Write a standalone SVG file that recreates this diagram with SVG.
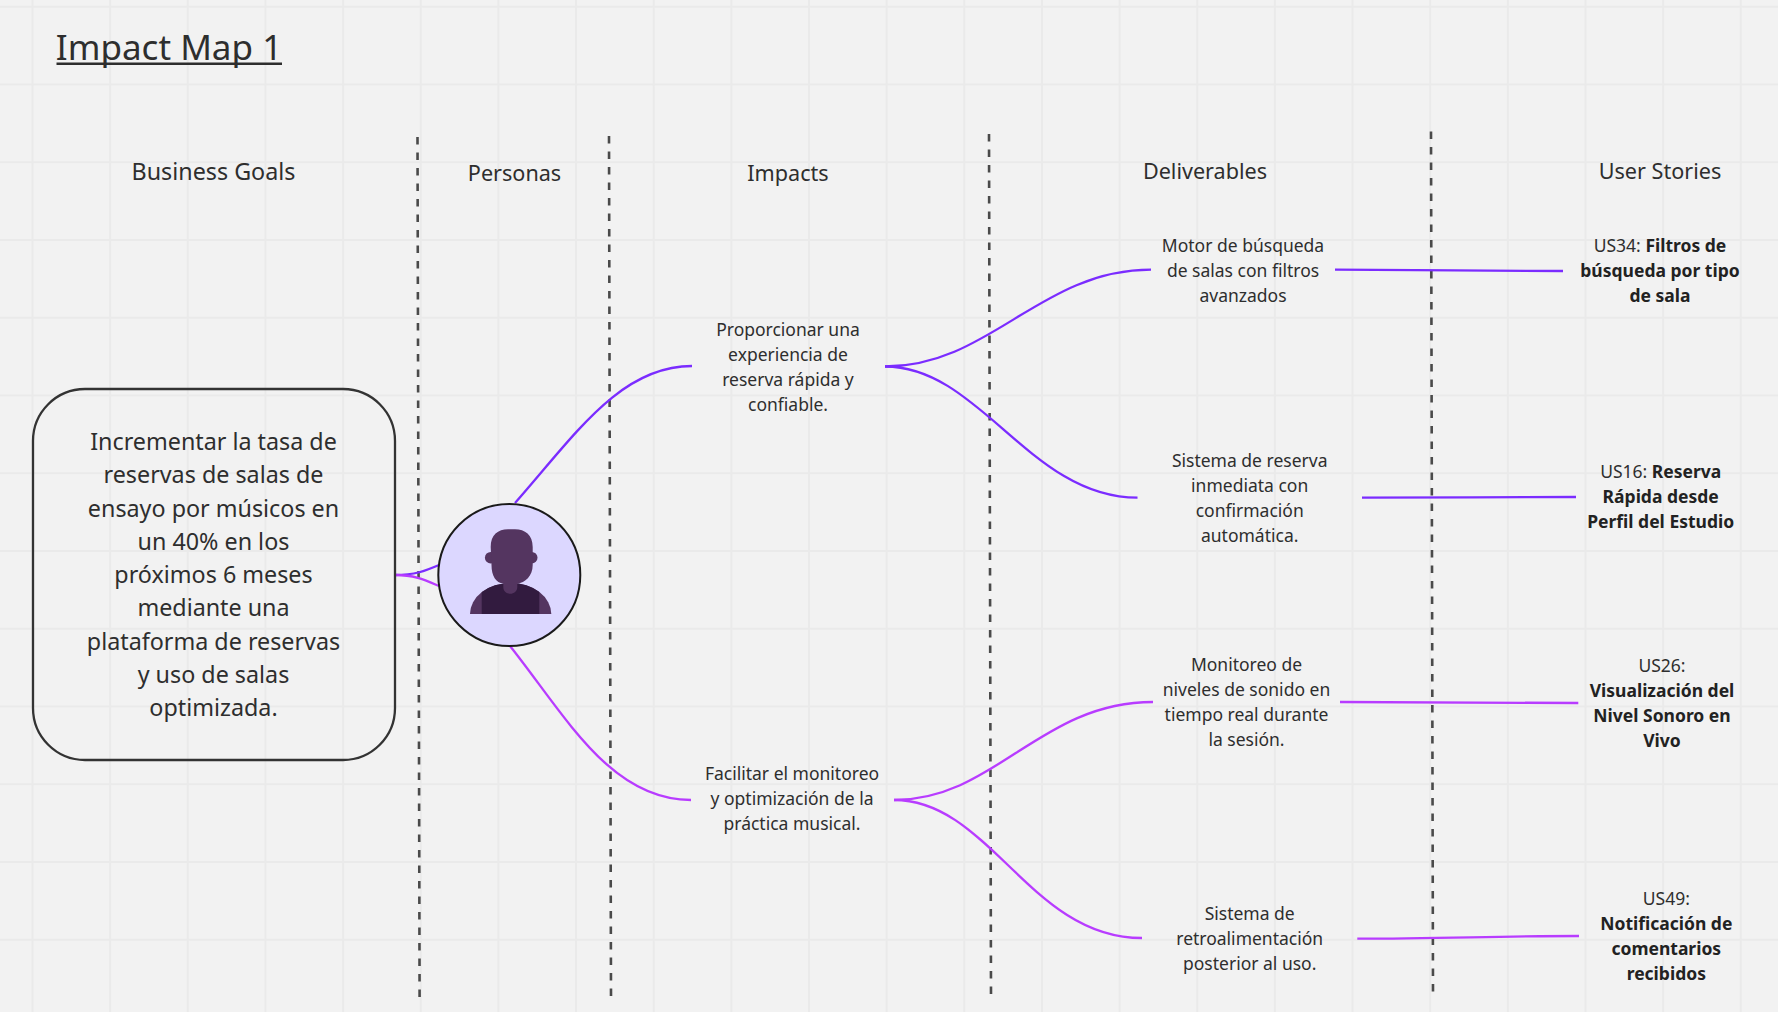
<svg xmlns="http://www.w3.org/2000/svg" width="1778" height="1012" viewBox="0 0 1778 1012">
<defs>
<pattern id="grid" width="77.65" height="77.75" patternUnits="userSpaceOnUse" x="31.500" y="5.700">
<rect width="2" height="77.75" fill="#eaeaea"/>
<rect width="77.65" height="2" fill="#eaeaea"/>
</pattern>
<clipPath id="torso"><path d="M470 614A40.650 31 0 0 1 551.300 614Z"/></clipPath>
</defs>
<style>
text{font-family:"Noto Sans","Open Sans","DejaVu Sans",sans-serif;fill:#2e2e2e;text-anchor:middle}
.h{font-size:21.6px}
.h0{font-size:23.300px}
.b{font-size:17.500px}
.g{font-size:23.300px}
.s{font-weight:700;fill:#222}
.dash{stroke:#4a4a4a;stroke-width:2.600;stroke-dasharray:7.500 8;fill:none}
.c1{stroke:#7b2cff;stroke-width:2.300;fill:none}
.c2{stroke:#b83cff;stroke-width:2.300;fill:none}
</style>
<rect width="1778" height="1012" fill="#f2f2f2"/>
<rect width="1778" height="1012" fill="url(#grid)"/>
<g id="dividers">
<path class="dash" d="M417.5 137L419.6 1000"/>
<path class="dash" d="M609 136L611 998"/>
<path class="dash" d="M989 134L991 997"/>
<path class="dash" d="M1431 131.500L1433 994.500"/>
</g>
<g id="connectors">
<path class="c1" d="M395 575C415 575 425 571 439 565"/>
<path class="c2" d="M395 575C415 575 425 580 439 586"/>
<path class="c1" d="M515 503C575 435 620 366 692 366"/>
<path class="c2" d="M510 646C565 715 610 800 691 800"/>
<path class="c1" d="M885 366.500C990 366.500 1040 269.700 1151 269.700"/>
<path class="c1" d="M885 366.500C980 366.500 1030 497.700 1137.500 497.700"/>
<path class="c2" d="M894 800C995 800 1040 702 1153 702"/>
<path class="c2" d="M894 800C990 800 1030 938 1142 938"/>
<path class="c1" d="M1335 269.700C1420 269.700 1480 271 1563 271"/>
<path class="c1" d="M1362 497.700C1450 497.700 1490 497 1576 497"/>
<path class="c2" d="M1340 702C1420 702 1500 703 1578.300 703"/>
<path class="c2" d="M1357.300 938.700C1440 938.700 1500 936 1579 936"/>
</g>
<g id="title">
<text x="169" y="60" font-size="35">Impact Map 1</text>
<rect x="56.500" y="62.500" width="225.500" height="2.500" fill="#2e2e2e"/>
</g>
<g id="headers">
<text class="h0" x="213.500" y="180">Business Goals</text>
<text class="h" x="514.500" y="180.500">Personas</text>
<text class="h" x="788" y="180.500">Impacts</text>
<text class="h" x="1205" y="178.500">Deliverables</text>
<text class="h" x="1660" y="179">User Stories</text>
</g>
<g id="goal">
<rect x="33" y="389" width="362" height="371" rx="52" ry="52" fill="none" stroke="#333" stroke-width="2.300"/>
<text class="g" x="213.500"><tspan x="213.500" y="450">Incrementar la tasa de</tspan><tspan x="213.500" y="483.300">reservas de salas de</tspan><tspan x="213.500" y="516.500">ensayo por músicos en</tspan><tspan x="213.500" y="549.800">un 40% en los</tspan><tspan x="213.500" y="583.100">próximos 6 meses</tspan><tspan x="213.500" y="616.300">mediante una</tspan><tspan x="213.500" y="649.600">plataforma de reservas</tspan><tspan x="213.500" y="682.900">y uso de salas</tspan><tspan x="213.500" y="716.100">optimizada.</tspan></text>
</g>
<g id="persona">
<circle cx="509.300" cy="575" r="71" fill="#dcd7ff" stroke="#1a1a1a" stroke-width="2"/>
<path d="M470 614A40.650 31 0 0 1 551.300 614Z" fill="#543560"/>
<rect x="481.700" y="580" width="57.600" height="34" fill="#321b3f" clip-path="url(#torso)"/>
<circle cx="490.700" cy="557.700" r="5.800" fill="#543560"/>
<circle cx="531.700" cy="557.700" r="5.800" fill="#543560"/>
<path d="M490.700 547C490.700 535 498 529.300 508 529.300H515C525 529.300 532.700 535 532.700 547V565C532.700 576 525 583 517.300 583.500V587C517.300 596 503.300 596 503.300 587V583.500C496 583 491.500 576 491.500 565Z" fill="#543560"/>
</g>
<g id="impact1">
<text class="b" x="788"><tspan x="788" y="335.500">Proporcionar una</tspan><tspan x="788" y="360.500">experiencia de</tspan><tspan x="788" y="385.500">reserva rápida y</tspan><tspan x="788" y="410.500">confiable.</tspan></text>
</g>
<g id="impact2">
<text class="b" x="792"><tspan x="792" y="780.300">Facilitar el monitoreo</tspan><tspan x="792" y="805.300">y optimización de la</tspan><tspan x="792" y="830.300">práctica musical.</tspan></text>
</g>
<g id="deliverable1">
<text class="b" x="1243"><tspan x="1243" y="251.800">Motor de búsqueda</tspan><tspan x="1243" y="276.800">de salas con filtros</tspan><tspan x="1243" y="301.800">avanzados</tspan></text>
</g>
<g id="deliverable2">
<text class="b" x="1249.700"><tspan x="1249.700" y="466.700">Sistema de reserva</tspan><tspan x="1249.700" y="491.700">inmediata con</tspan><tspan x="1249.700" y="516.700">confirmación</tspan><tspan x="1249.700" y="541.700">automática.</tspan></text>
</g>
<g id="deliverable3">
<text class="b" x="1246.500"><tspan x="1246.500" y="670.700">Monitoreo de</tspan><tspan x="1246.500" y="695.700">niveles de sonido en</tspan><tspan x="1246.500" y="720.700">tiempo real durante</tspan><tspan x="1246.500" y="745.700">la sesión.</tspan></text>
</g>
<g id="deliverable4">
<text class="b" x="1249.700"><tspan x="1249.700" y="919.800">Sistema de</tspan><tspan x="1249.700" y="944.800">retroalimentación</tspan><tspan x="1249.700" y="969.800">posterior al uso.</tspan></text>
</g>
<g id="us34">
<text class="b" x="1660"><tspan x="1660" y="252">US34: <tspan class="s">Filtros de</tspan></tspan><tspan x="1660" y="277" class="s">búsqueda por tipo</tspan><tspan x="1660" y="302" class="s">de sala</tspan></text>
</g>
<g id="us16">
<text class="b" x="1660.700"><tspan x="1660.700" y="478">US16: <tspan class="s">Reserva</tspan></tspan><tspan x="1660.700" y="503" class="s">Rápida desde</tspan><tspan x="1660.700" y="528" class="s">Perfil del Estudio</tspan></text>
</g>
<g id="us26">
<text class="b" x="1662"><tspan x="1662" y="672">US26:</tspan><tspan x="1662" y="697" class="s">Visualización del</tspan><tspan x="1662" y="722" class="s">Nivel Sonoro en</tspan><tspan x="1662" y="747" class="s">Vivo</tspan></text>
</g>
<g id="us49">
<text class="b" x="1666.300"><tspan x="1666.300" y="905">US49:</tspan><tspan x="1666.300" y="930" class="s">Notificación de</tspan><tspan x="1666.300" y="955" class="s">comentarios</tspan><tspan x="1666.300" y="980" class="s">recibidos</tspan></text>
</g>
</svg>
